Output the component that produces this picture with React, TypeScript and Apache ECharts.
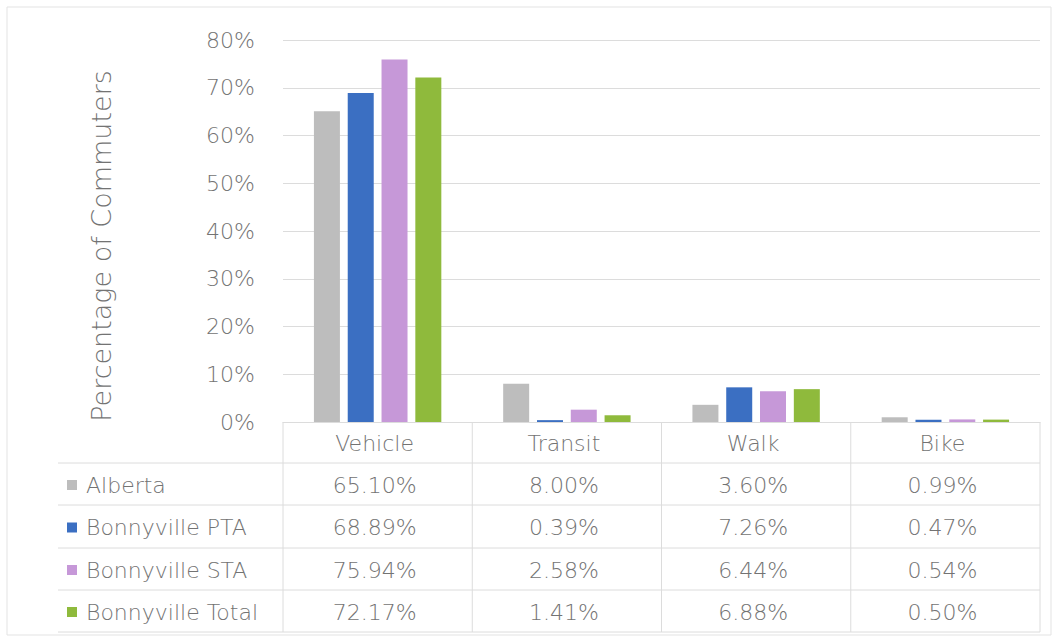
import React, { useEffect, useRef } from "react";
import * as echarts from "echarts";

const categories = ["Vehicle", "Transit", "Walk", "Bike"];
const seriesNames = ["Alberta", "Bonnyville PTA", "Bonnyville STA", "Bonnyville Total"];
const alberta = [65.1, 8.0, 3.6, 0.99];
const bonnyvillePTA = [68.89, 0.39, 7.26, 0.47];
const bonnyvilleSTA = [75.94, 2.58, 6.44, 0.54];
const bonnyvilleTotal = [72.17, 1.41, 6.88, 0.5];
const seriesValues = [alberta, bonnyvillePTA, bonnyvilleSTA, bonnyvilleTotal];
const colors = ["#bdbdbd", "#3b6fc2", "#c698d8", "#8fba3c"];
const yTicks = { min: 0, max: 80, interval: 10 };
const yTitle = "Percentage of Commuters";

const FONT = "'DejaVu Sans ExtraLight', 'DejaVu Sans Light', 'DejaVu Sans', sans-serif";
const TXT = "#737373";
const LINE = "#dcdcdc";

const GRID_L = 283;
const GRID_R = 1040;
const GRID_T = 40;
const GRID_B = 422;
const TABLE_LINES = [463, 505, 548, 590, 632];
const TABLE_LEFT = 58;

export default function App() {
  const ref = useRef<HTMLDivElement>(null);
  useEffect(() => {
    if (!ref.current) return;
    const chart = echarts.init(ref.current, undefined, { renderer: "svg" });
    const colW = (GRID_R - GRID_L) / categories.length;
    const graphic: any[] = [];
    graphic.push({
      type: "rect",
      shape: { x: 7, y: 7, width: 1044, height: 628 },
      style: { fill: "none", stroke: "#e3e3e3", lineWidth: 1 },
      silent: true,
    });
    graphic.push({
      type: "text",
      x: 101,
      y: 246,
      rotation: Math.PI / 2,
      style: {
        text: yTitle,
        font: `27px ${FONT}`,
        fill: TXT,
        textAlign: "center",
        textVerticalAlign: "middle",
      },
    });
    TABLE_LINES.forEach((y) => {
      graphic.push({
        type: "line",
        shape: { x1: TABLE_LEFT, y1: y, x2: GRID_R, y2: y },
        style: { stroke: LINE, lineWidth: 1 },
        silent: true,
      });
    });
    for (let i = 0; i <= categories.length; i++) {
      const x = GRID_L + i * colW;
      graphic.push({
        type: "line",
        shape: { x1: x, y1: GRID_B, x2: x, y2: TABLE_LINES[TABLE_LINES.length - 1] },
        style: { stroke: LINE, lineWidth: 1 },
        silent: true,
      });
    }
    categories.forEach((c, i) => {
      graphic.push({
        type: "text",
        x: GRID_L + (i + 0.5) * colW - 3,
        y: (GRID_B + TABLE_LINES[0]) / 2 + 1,
        style: {
          text: c,
          font: `22px ${FONT}`,
          fill: TXT,
          textAlign: "center",
          textVerticalAlign: "middle",
        },
      });
    });
    seriesNames.forEach((name, r) => {
      const yc = (TABLE_LINES[r] + TABLE_LINES[r + 1]) / 2 + 1;
      graphic.push({
        type: "rect",
        shape: { x: 67, y: yc - 5, width: 10, height: 10 },
        style: { fill: colors[r] },
      });
      graphic.push({
        type: "text",
        x: 86,
        y: yc,
        style: {
          text: name,
          font: `22px ${FONT}`,
          fill: TXT,
          textAlign: "left",
          textVerticalAlign: "middle",
        },
      });
      seriesValues[r].forEach((v, i) => {
        graphic.push({
          type: "text",
          x: GRID_L + (i + 0.5) * colW - 3,
          y: yc,
          style: {
            text: v.toFixed(2) + "%",
            font: `22px ${FONT}`,
            fill: TXT,
            textAlign: "center",
            textVerticalAlign: "middle",
          },
        });
      });
    });

    chart.setOption({
      animation: false,
      backgroundColor: "#ffffff",
      grid: {
        left: GRID_L,
        right: 1058 - GRID_R,
        top: GRID_T,
        bottom: 640 - GRID_B,
        containLabel: false,
      },
      xAxis: {
        type: "category",
        data: categories,
        axisLabel: { show: false },
        axisTick: { show: false },
        axisLine: { show: true, lineStyle: { color: LINE, width: 1 } },
      },
      yAxis: {
        type: "value",
        min: yTicks.min,
        max: yTicks.max,
        interval: yTicks.interval,
        axisLine: { show: false },
        axisTick: { show: false },
        splitLine: { lineStyle: { color: LINE, width: 1 } },
        axisLabel: {
          formatter: "{value}%",
          fontFamily: FONT,
          fontSize: 22,
          color: TXT,
          margin: 28,
        },
      },
      series: seriesNames.map((name, i) => ({
        name,
        type: "bar",
        data: seriesValues[i],
        barWidth: 26,
        barGap: "30%",
        itemStyle: { color: colors[i] },
      })),
      graphic,
    });
    return () => chart.dispose();
  }, []);
  return (
    <div
      ref={ref}
      style={{ position: "fixed", left: 0, top: 0, width: 1058, height: 640, background: "#fff" }}
    />
  );
}
